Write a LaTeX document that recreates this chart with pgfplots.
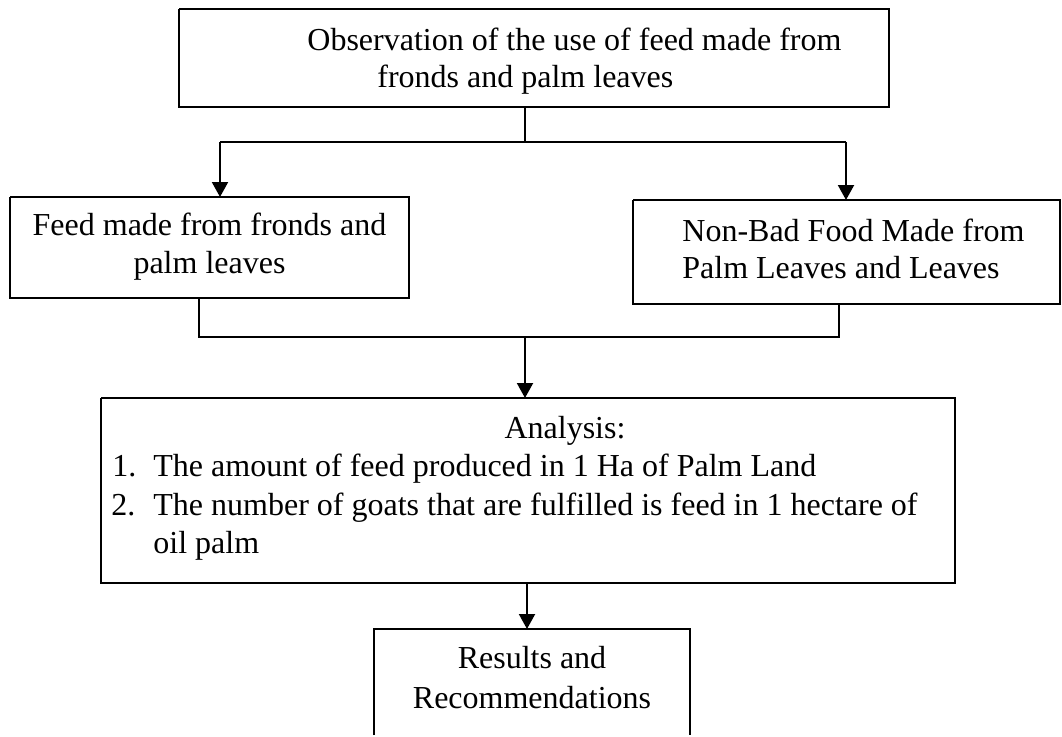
\documentclass[border=0pt]{standalone}
\usepackage{fontspec}
\setmainfont{Liberation Serif}
\usepackage{pgfplots}
\pgfplotsset{compat=1.18}
\usetikzlibrary{arrows.meta}
\tikzset{
  ln/.style={black, solid, line width=1pt, line join=miter},
  arr/.style={ln, -{Triangle[length=7.5pt,width=8pt]}},
  txt/.style={inner sep=0pt, font=\fontsize{16}{18.5}\selectfont}}
\begin{document}
\fontsize{16}{18.5}\selectfont
\begin{tikzpicture}
\begin{axis}[hide axis, x=0.5pt, y=0.5pt, y dir=reverse,
  xmin=0, xmax=1062, ymin=0, ymax=735, clip=false]
\path (axis cs:0,0) rectangle (axis cs:1062,735);
% top box
\addplot[ln, no markers] coordinates {(179,9) (889,9) (889,107) (179,107) (179,9)};
\node[txt, anchor=base west] at (axis cs:307,50) {Observation of the use of feed made from};
\node[txt, anchor=base west] at (axis cs:377,87) {fronds and palm leaves};
% split connector
\addplot[ln, no markers] coordinates {(525,107) (525,142)};
\addplot[ln, no markers] coordinates {(220,142) (846,142)};
\addplot[arr, no markers] coordinates {(220,142) (220,197)};
\addplot[arr, no markers] coordinates {(846,142) (846,200)};
% left box
\addplot[ln, no markers] coordinates {(10,197) (409,197) (409,298) (10,298) (10,197)};
\node[txt, anchor=base] at (axis cs:209.5,235) {Feed made from fronds and};
\node[txt, anchor=base] at (axis cs:209.5,273) {palm leaves};
% right box
\addplot[ln, no markers] coordinates {(633,200) (1060,200) (1060,304) (633,304) (633,200)};
\node[txt, anchor=base west] at (axis cs:682,241) {Non-Bad Food Made from};
\node[txt, anchor=base west] at (axis cs:682,278) {Palm Leaves and Leaves};
% join connector
\addplot[ln, no markers] coordinates {(199,298) (199,337) (839,337) (839,304)};
\addplot[arr, no markers] coordinates {(525,337) (525,398)};
% analysis box
\addplot[ln, no markers] coordinates {(101,398) (955,398) (955,583) (101,583) (101,398)};
\node[txt, anchor=base] at (axis cs:565,438) {Analysis:};
\node[txt, anchor=base west] at (axis cs:112,476) {1.};
\node[txt, anchor=base west] at (axis cs:153,476) {The amount of feed produced in 1 Ha of Palm Land};
\node[txt, anchor=base west] at (axis cs:111,515) {2.};
\node[txt, anchor=base west] at (axis cs:153,515) {The number of goats that are fulfilled is feed in 1 hectare of};
\node[txt, anchor=base west] at (axis cs:153,553) {oil palm};
% results
\addplot[arr, no markers] coordinates {(527,583) (527,629)};
\addplot[ln, no markers] coordinates {(374,735) (374,629) (690,629) (690,735)};
\node[txt, anchor=base] at (axis cs:532,668) {Results and};
\node[txt, anchor=base] at (axis cs:532,708) {Recommendations};
\end{axis}
\end{tikzpicture}
\end{document}
